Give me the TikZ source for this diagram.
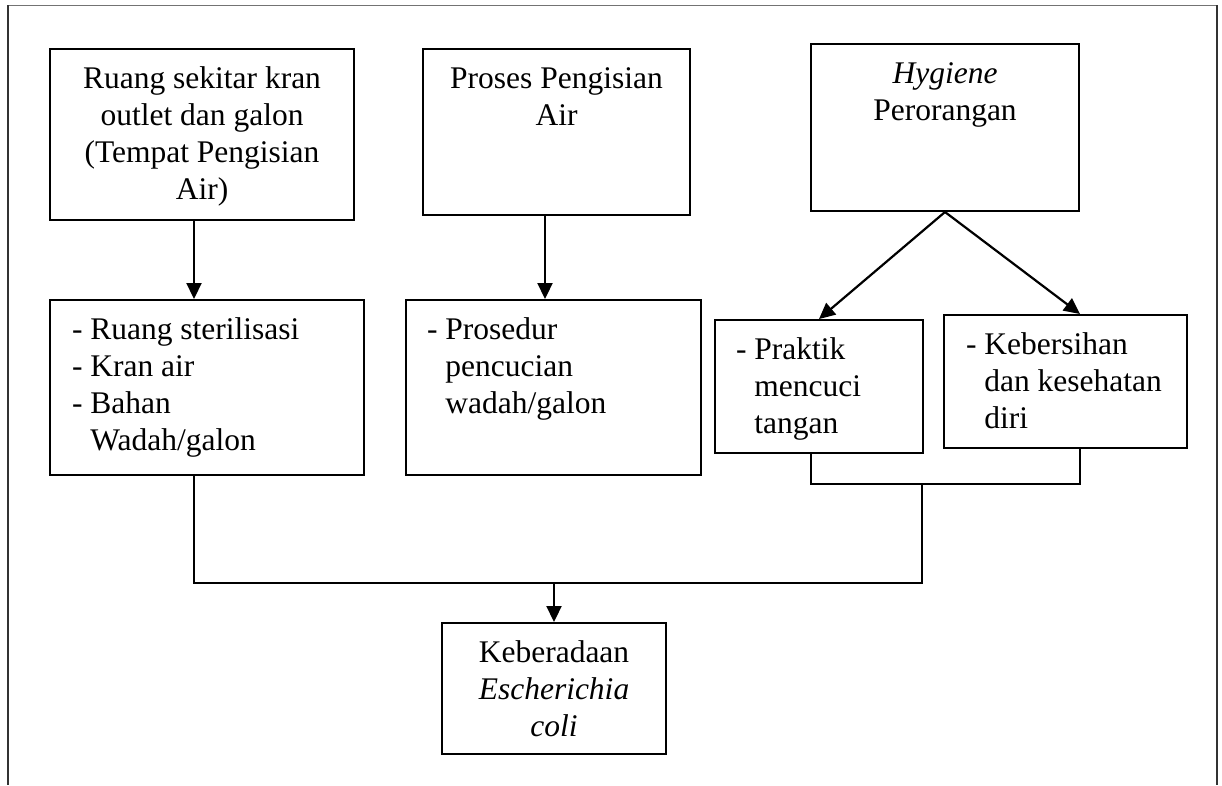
\documentclass[tikz,border=0pt]{standalone}
\usepackage{fontspec}
\setmainfont{Liberation Serif}
\usepackage{tikz}
\usetikzlibrary{arrows.meta}

\newlength{\lebarstrip}
% isi kotak: lebar, tinggi, teks (rata atas)
\newcommand{\isikotak}[3]{\parbox[c][#2][t]{#1}{\vspace*{14pt}#3\par}}
\newcommand{\butir}[1]{\settowidth{\lebarstrip}{-\ }\hangindent=\lebarstrip\hangafter=1\noindent\strut-\ #1\par}

\begin{document}
\begin{tikzpicture}[
      x=1pt, y=-1pt,
      kotak/.style={
        draw,
        line width=2pt,
        inner sep=0pt,
        anchor=north west,
        font=\fontsize{31.5}{37}\selectfont
      },
      garis/.style={
        -,
        line width=2.2pt
      },
      panah/.style={
        -{Triangle[length=16pt, width=15pt]},
        line width=2.2pt
      }
      ]
        \useasboundingbox (0,0) rectangle (1222,785);

        % bingkai luar
        \draw[line width=1pt, black!55] (8,5) -- (1217,5);
        \draw[line width=1.3pt, black!80] (8,5) -- (8,785);
        \draw[line width=1.3pt, black!80] (1217,5) -- (1217,785);

        \node[kotak] (ruang) at (49,48) {\isikotak{304pt}{171pt}{\centering\strut Ruang sekitar kran\\ outlet dan galon\\ (Tempat Pengisian\\ Air)}};
        \node[kotak] (proses) at (422,48) {\isikotak{267pt}{166pt}{\centering\strut Proses Pengisian\\ Air}};
        \node[kotak] (hygiene) at (810,43) {\isikotak{268pt}{167pt}{\centering\strut\textit{Hygiene}\\ Perorangan}};

        \node[kotak] (sarana) at (49,299) {\isikotak{314pt}{175pt}{\leftskip=22pt
            \butir{Ruang sterilisasi}
            \butir{Kran air}
            \butir{Bahan\\ Wadah/galon}}};
        \node[kotak] (prosedur) at (405,299) {\isikotak{295pt}{175pt}{\leftskip=21pt
            \butir{Prosedur\\ pencucian\\ wadah/galon}}};
        \node[kotak] (praktik) at (714,319) {\isikotak{208pt}{133pt}{\leftskip=21pt
            \butir{Praktik\\ mencuci\\ tangan}}};
        \node[kotak] (bersih) at (943,314) {\isikotak{243pt}{133pt}{\leftskip=22pt
            \butir{Kebersihan\\ dan kesehatan\\ diri}}};

        \node[kotak] (ecoli) at (441,622) {\isikotak{224pt}{131pt}{\centering\strut Keberadaan\\ \textit{Escherichia}\\ \textit{coli}}};

        \coordinate (kiri) at (194,583);
        \coordinate (kanan) at (922,583);
        \coordinate (tengah) at (545,0);
        \coordinate (kurung) at (811,484);

        \draw[panah] (ruang.south -| kiri) -- (sarana.north -| kiri);
        \draw[panah] (proses.south -| tengah) -- (prosedur.north -| tengah);
        \draw[panah] (hygiene.south) -- (praktik.north);
        \draw[panah] (hygiene.south) -- (bersih.north -| hygiene.east);

        % kurung di bawah praktik dan kebersihan
        \draw[garis] (praktik.south -| kurung) -- (kurung) -- (hygiene.east |- kurung) -- (bersih.south -| hygiene.east);
        \draw[garis] (sarana.south -| kiri) -- (kiri) -- (kanan) -- (kanan |- kurung);
        \draw[panah] (ecoli.north |- kiri) -- (ecoli.north);
    \end{tikzpicture}
\end{document}
